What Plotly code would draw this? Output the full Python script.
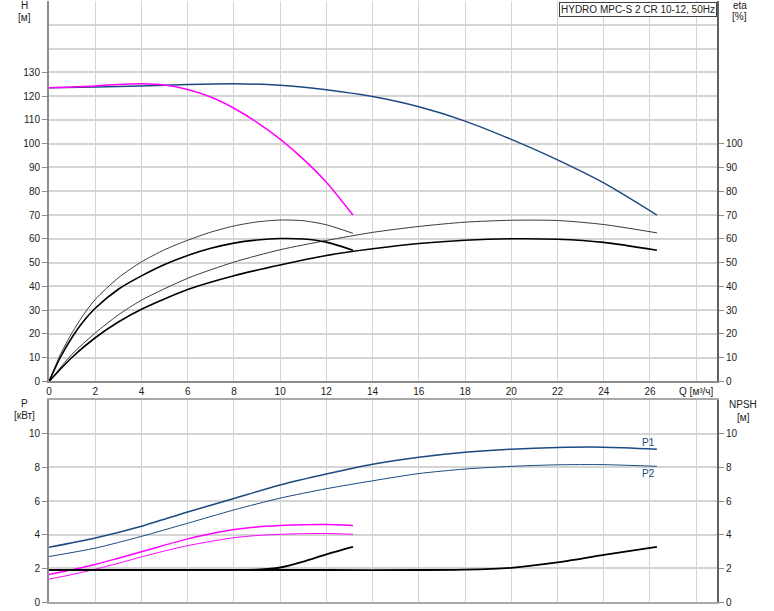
import plotly.graph_objects as go

# ---------------- data ----------------
# Flow values (m3/h)
Q_one = [0, 1, 2, 3, 4, 5, 6, 7, 8, 9, 10, 11, 12, 13.15]
Q_two = [0, 2, 4, 6, 8, 10, 12, 14, 16, 18, 20, 22, 24, 26.3]
Q_eta_one = [0, 0.5, 1, 1.5, 2, 3, 4, 5, 6, 7, 8, 9, 10, 11, 12, 13.15]
Q_eta_two = [0, 1, 2, 3, 4, 6, 8, 10, 12, 14, 16, 18, 20, 22, 24, 26.3]
Q_npsh_one = [0, 2, 4, 6, 8, 9, 10, 11, 12, 13.15]
Q_npsh_two = [0, 4, 8, 12, 16, 18, 20, 22, 24, 26.3]

# Head (m)
H_one = [123.5, 123.8, 124.3, 124.9, 125.2, 124.7, 122.8, 119.6, 114.9, 109.0, 101.9, 93.5, 83.8, 70.0]
H_two = [123.5, 123.8, 124.3, 124.9, 125.2, 124.6, 122.7, 119.8, 115.5, 109.5, 101.8, 93.2, 83.5, 70.0]

# Efficiency (%)
eta_thin_one = [0, 11.5, 20.5, 28.2, 34.5, 43.6, 50.3, 55.4, 59.4, 62.8, 65.4, 67.1, 67.9, 67.6, 65.9, 62.3]
eta_thick_one = [0, 10.3, 18.6, 25.4, 30.8, 38.8, 44.4, 49.2, 53.0, 56.0, 58.2, 59.5, 60.1, 59.9, 58.6, 55.2]
eta_thin_two = [0, 11.5, 20.4, 28.0, 34.2, 43.4, 50.2, 55.4, 59.3, 62.7, 65.2, 67.0, 67.8, 67.7, 66.0, 62.5]
eta_thick_two = [0, 10.2, 18.4, 25.0, 30.4, 38.7, 44.5, 49.0, 53.0, 55.8, 58.0, 59.4, 60.0, 59.8, 58.5, 55.2]

# Power (kW)
P1_two = [3.25, 3.8, 4.5, 5.35, 6.15, 6.95, 7.6, 8.18, 8.6, 8.9, 9.08, 9.18, 9.2, 9.08]
P2_two = [2.7, 3.2, 3.9, 4.68, 5.47, 6.17, 6.73, 7.2, 7.63, 7.9, 8.06, 8.15, 8.16, 8.06]
P1_one = [1.63, 1.92, 2.23, 2.6, 2.98, 3.38, 3.75, 4.05, 4.3, 4.46, 4.54, 4.59, 4.6, 4.54]
P2_one = [1.36, 1.63, 1.95, 2.3, 2.68, 3.03, 3.35, 3.6, 3.82, 3.95, 4.02, 4.06, 4.07, 4.02]

# NPSH (m)
NPSH_one = [1.9, 1.9, 1.9, 1.9, 1.9, 1.92, 2.05, 2.4, 2.83, 3.27]
NPSH_two = [1.9, 1.9, 1.9, 1.9, 1.9, 1.92, 2.03, 2.35, 2.8, 3.27]

# Tick labels
x_tickvals = list(range(0, 29, 2))
x_ticktext = [str(v) for v in range(0, 27, 2)] + ["Q [м³/ч]"]
H_ticks = list(range(0, 131, 10))
eta_ticks = list(range(0, 101, 10))
P_ticks = list(range(0, 11, 2))
NPSH_ticks = list(range(0, 11, 2))

TITLE = "HYDRO MPC-S 2 CR 10-12, 50Hz"

# ---------------- styles ----------------
BLUE = "#1b4a80"
MAG = "#ff00ff"
GRID = "#d4d4d4"
AXIS = "#8c8c8c"
TXT = "#222222"
FONT = "Liberation Sans, Arial, sans-serif"

fig = go.Figure()

def line(x, y, xa, ya, color, width):
    fig.add_trace(go.Scatter(x=x, y=y, xaxis=xa, yaxis=ya, mode="lines",
                             line=dict(color=color, width=width, shape="spline", smoothing=0.7),
                             showlegend=False, hoverinfo="skip"))

# efficiency curves (right axis of top plot)
line(Q_eta_two, eta_thin_two, "x", "y2", "#3a3a3a", 1)
line(Q_eta_two, eta_thick_two, "x", "y2", "#000000", 1.6)
line(Q_eta_one, eta_thin_one, "x", "y2", "#3a3a3a", 1)
line(Q_eta_one, eta_thick_one, "x", "y2", "#000000", 1.6)
# head curves
line(Q_two, H_two, "x", "y", BLUE, 1.5)
line(Q_one, H_one, "x", "y", MAG, 1.5)

# power curves
line(Q_two, P2_two, "x2", "y3", BLUE, 1)
line(Q_two, P1_two, "x2", "y3", BLUE, 1.5)
line(Q_one, P2_one, "x2", "y3", MAG, 1)
line(Q_one, P1_one, "x2", "y3", MAG, 1.5)
# NPSH curves
line(Q_npsh_two, NPSH_two, "x2", "y4", "#000000", 1.8)
line(Q_npsh_one, NPSH_one, "x2", "y4", "#000000", 1.8)

tickfont = dict(family=FONT, size=10, color=TXT)

TOP_DOM = [0.3669, 1.0]
BOT_DOM = [0.0, 0.3361]
XR = [0, 28.9]

fig.update_layout(
    width=774, height=611,
    margin=dict(l=49, r=57, t=1, b=9),
    paper_bgcolor="white", plot_bgcolor="white",
    font=dict(family=FONT, size=10, color=TXT),
    xaxis=dict(domain=[0, 1], range=XR, anchor="y", tickmode="array",
               tickvals=x_tickvals, ticktext=x_ticktext, ticks="",
               showgrid=True, gridcolor=GRID, gridwidth=1,
               showline=True, linecolor=AXIS, linewidth=2, zeroline=False,
               tickfont=tickfont, fixedrange=True),
    yaxis=dict(domain=TOP_DOM, range=[0, 160], anchor="x", tickmode="array",
               tickvals=H_ticks, ticks="outside", ticklen=5, tickcolor=AXIS,
               showgrid=True, gridcolor=GRID, gridwidth=1.5,
               minor=dict(tick0=0, dtick=10, showgrid=True, gridcolor=GRID, gridwidth=1.5, ticks=""),
               showline=True, linecolor=AXIS, linewidth=2, zeroline=False,
               tickfont=tickfont),
    yaxis2=dict(domain=TOP_DOM, range=[0, 160], overlaying="y", side="right", anchor="x",
                tickmode="array", tickvals=eta_ticks, ticks="outside", ticklen=5,
                tickcolor=AXIS, showgrid=False, showline=True, linecolor="#606060",
                linewidth=2, zeroline=False, tickfont=tickfont),
    xaxis2=dict(domain=[0, 1], range=XR, anchor="y3", tickmode="array",
                tickvals=x_tickvals, showticklabels=False, ticks="",
                showgrid=True, gridcolor=GRID, gridwidth=1,
                showline=True, mirror=True, linecolor="#a8a8a8", linewidth=2,
                zeroline=False),
    yaxis3=dict(domain=BOT_DOM, range=[0, 12], anchor="x2", tickmode="array",
                tickvals=P_ticks, ticks="outside", ticklen=5, tickcolor=AXIS,
                showgrid=True, gridcolor=GRID, gridwidth=1.5,
                showline=True, linecolor=AXIS, linewidth=2, zeroline=False,
                tickfont=tickfont),
    yaxis4=dict(domain=BOT_DOM, range=[0, 12], overlaying="y3", side="right", anchor="x2",
                tickmode="array", tickvals=NPSH_ticks, ticks="outside", ticklen=5,
                tickcolor=AXIS, showgrid=False, showline=True, linecolor="#606060",
                linewidth=2, zeroline=False, tickfont=tickfont),
)

def lab(text, x, y, xanchor="center"):
    fig.add_annotation(text=text, x=x, y=y, xref="paper", yref="paper",
                       xanchor=xanchor, yanchor="middle", showarrow=False,
                       font=dict(family=FONT, size=10, color=TXT))

lab("H", -0.036, 0.993)
lab("[м]", -0.036, 0.972)
lab("eta", 1.034, 0.993)
lab("[%]", 1.034, 0.974)
lab("P", -0.036, 0.331)
lab("[кВт]", -0.036, 0.310)
lab("NPSH", 1.039, 0.329)
lab("[м]", 1.039, 0.307)

fig.add_annotation(text=TITLE, x=1, y=0.998, xref="paper", yref="paper",
                   xanchor="right", yanchor="top", showarrow=False,
                   bgcolor="white", bordercolor="#404040", borderwidth=1, borderpad=1,
                   font=dict(family=FONT, size=10, color=TXT))

fig.add_annotation(text="P1", x=Q_two[-1] - 0.35, y=P1_two[-1] + 0.42, xref="x2", yref="y3",
                   showarrow=False, font=dict(family=FONT, size=10, color=BLUE))
fig.add_annotation(text="P2", x=Q_two[-1] - 0.35, y=P2_two[-1] - 0.4, xref="x2", yref="y3",
                   showarrow=False, font=dict(family=FONT, size=10, color=BLUE))

fig.write_html("out.html", config={"displayModeBar": False},
               post_script="document.body.style.margin='0px';")
